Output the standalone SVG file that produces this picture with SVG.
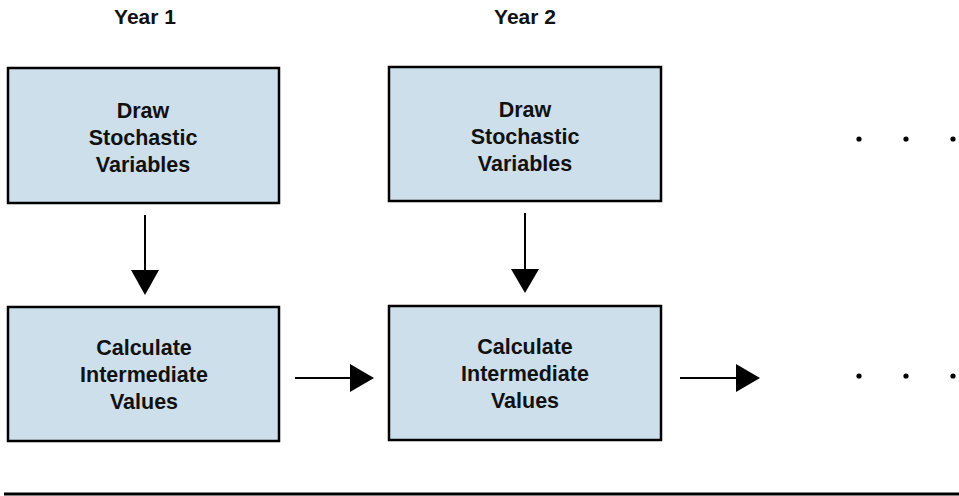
<svg xmlns="http://www.w3.org/2000/svg" width="959" height="496" viewBox="0 0 959 496">
<style>
.box{fill:#cddfeb;stroke:#000;stroke-width:2.5}
.t{font-family:"Liberation Sans",Arial,sans-serif;font-weight:bold;font-size:21.5px;text-anchor:middle;fill:#111}
.h{font-family:"Liberation Sans",Arial,sans-serif;font-weight:bold;font-size:21px;text-anchor:middle;fill:#111}
.ln{stroke:#000;stroke-width:2;fill:none}
.dot{fill:#000}
</style>
<text class="h" x="145" y="24">Year 1</text>
<text class="h" x="525" y="24">Year 2</text>
<g id="draw1">
<rect class="box" x="8" y="68" width="271" height="135"/>
<text class="t" x="143" y="118">Draw</text>
<text class="t" x="143" y="145">Stochastic</text>
<text class="t" x="143" y="172">Variables</text>
</g>
<g id="draw2">
<rect class="box" x="389" y="67" width="272" height="134"/>
<text class="t" x="525" y="117">Draw</text>
<text class="t" x="525" y="144">Stochastic</text>
<text class="t" x="525" y="171">Variables</text>
</g>
<g id="calc1">
<rect class="box" x="8" y="307" width="271" height="134"/>
<text class="t" x="144" y="355">Calculate</text>
<text class="t" x="144" y="382">Intermediate</text>
<text class="t" x="144" y="409">Values</text>
</g>
<g id="calc2">
<rect class="box" x="389" y="306" width="272" height="134"/>
<text class="t" x="525" y="354">Calculate</text>
<text class="t" x="525" y="381">Intermediate</text>
<text class="t" x="525" y="408">Values</text>
</g>
<g id="connectors">
<line class="ln" x1="145" y1="215" x2="145" y2="272"/>
<polygon points="131,270 159,270 145,295"/>
<line class="ln" x1="525" y1="213" x2="525" y2="271"/>
<polygon points="511,269 539,269 525,293"/>
<line class="ln" x1="295" y1="378" x2="352" y2="378"/>
<polygon points="350,364 350,392 374,378"/>
<line class="ln" x1="680" y1="378" x2="738" y2="378"/>
<polygon points="736,364 736,392 760,378"/>
</g>
<g id="dots">
<circle class="dot" cx="859" cy="139" r="2.6"/>
<circle class="dot" cx="906" cy="139" r="2.6"/>
<circle class="dot" cx="953" cy="139" r="2.6"/>
<circle class="dot" cx="859" cy="376" r="2.6"/>
<circle class="dot" cx="906" cy="376" r="2.6"/>
<circle class="dot" cx="953" cy="376" r="2.6"/>
</g>
<line x1="4" y1="494" x2="959" y2="494" stroke="#000" stroke-width="3"/>
</svg>
